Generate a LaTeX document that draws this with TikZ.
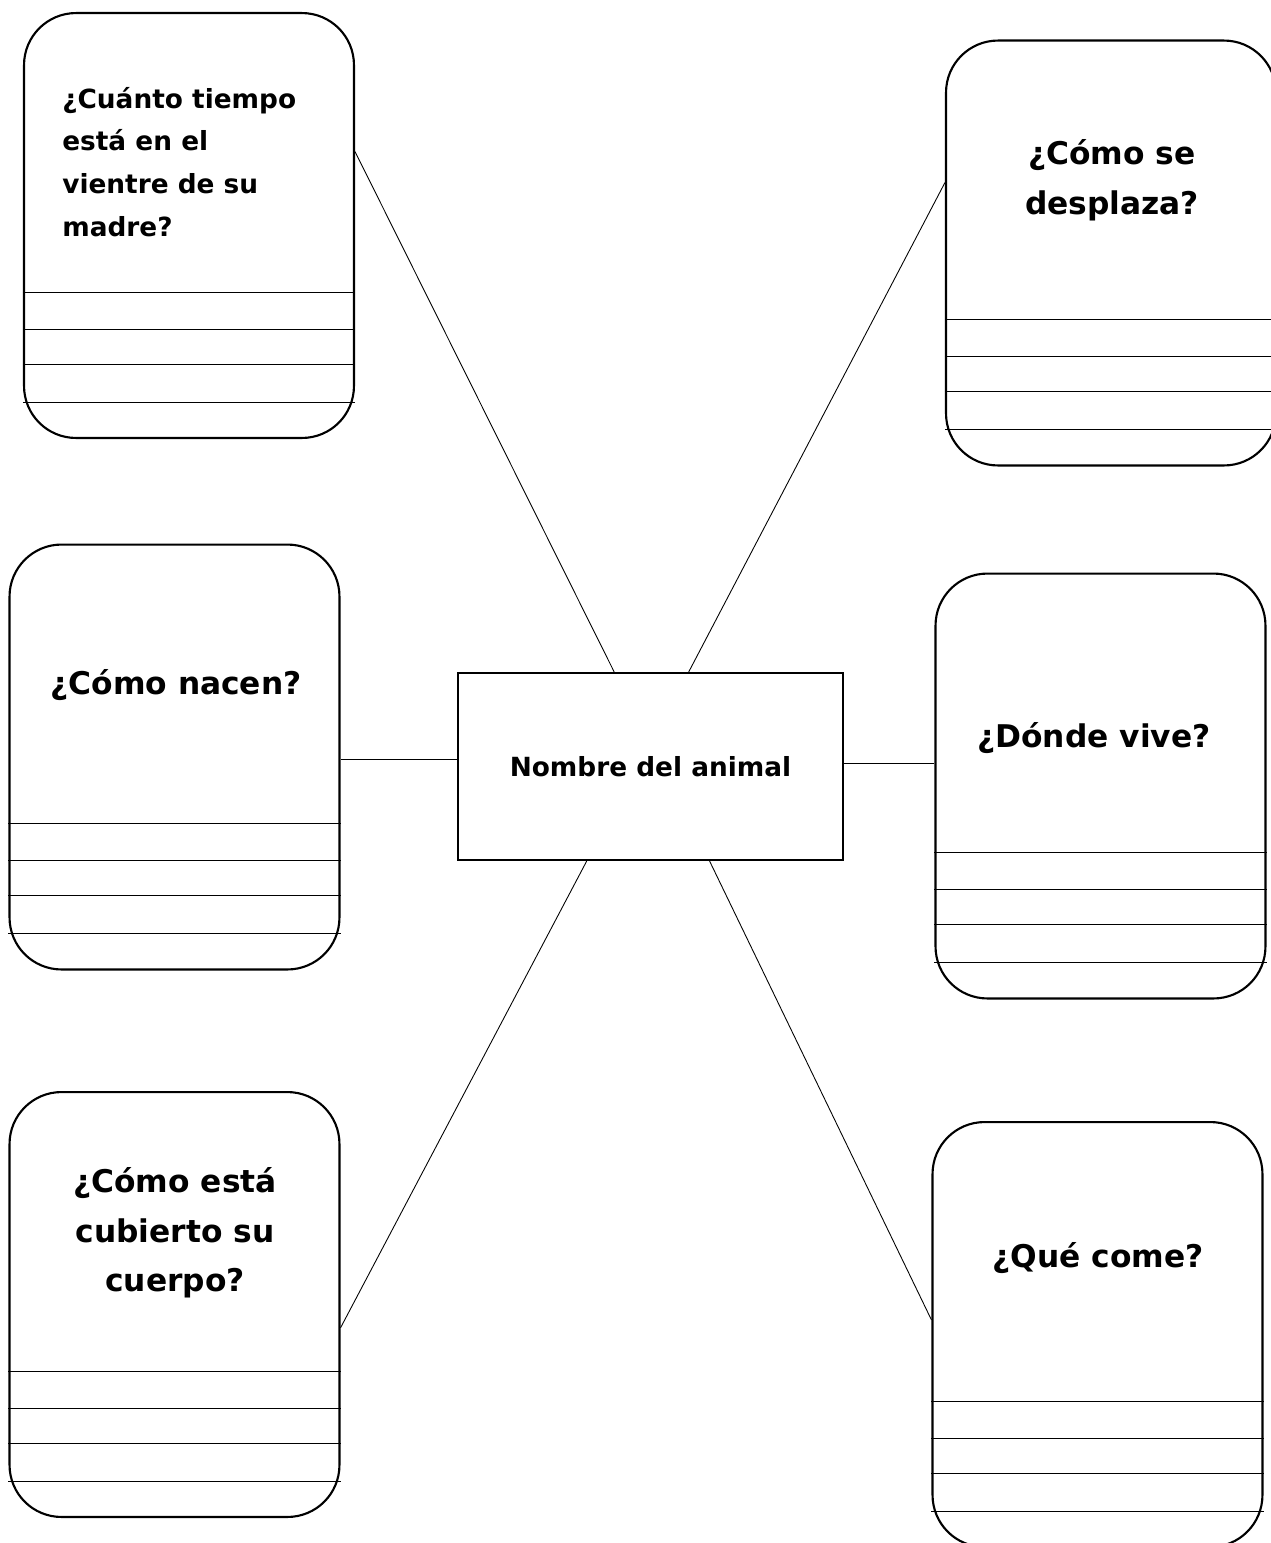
\documentclass[tikz,border=0pt]{standalone}
\usepackage{fontspec}
\setmainfont{DejaVu Sans}
\usetikzlibrary{positioning}
\begin{document}
\begin{tikzpicture}[x=0.02cm,y=-0.02cm,
    caja/.style={draw,line width=1.2pt,rounded corners=1.04cm,minimum width=6.6cm,minimum height=8.5cm,inner sep=0pt},
    pregunta/.style={font=\bfseries\fontsize{17.8}{28.3}\selectfont,align=center,inner sep=0pt},
    pregchica/.style={font=\bfseries\fontsize{15}{24.4}\selectfont,align=left,inner sep=0pt,anchor=west},
    renglon/.style={line width=0.6pt},
    enlace/.style={line width=0.5pt}]
    \useasboundingbox (0,0) rectangle (1271,1543);

    % Cajas
    \node[caja] (q1) at (189,225.5) {};
    \node[caja] (q2) at (1111,253) {};
    \node[caja] (q3) at (174.5,757) {};
    \node[caja] (q4) at (1100.5,786) {};
    \node[caja] (q5) at (174.5,1304.5) {};
    \node[caja] (q6) at (1097.5,1334.5) {};

    % Centro
    \node[draw,line width=1.3pt,minimum width=7.7cm,minimum height=3.74cm,
          font=\bfseries\fontsize{15}{18}\selectfont] (c) at (650.5,766.5) {Nombre del animal};

    % Preguntas
    \node[pregchica] (t1) at (62,162) {¿Cuánto tiempo\\está en el\\vientre de su\\madre?};
    \node[pregunta] (t2) at (1112,180) {¿Cómo se\\desplaza?};
    \node[pregunta] (t3) at (176,685) {¿Cómo nacen?};
    \node[pregunta] (t4) at (1094,738) {¿Dónde vive?};
    \node[pregunta] (t5) at (175,1233) {¿Cómo está\\cubierto su\\cuerpo?};
    \node[pregunta] (t6) at (1098,1258) {¿Qué come?};

    % Renglones
    \foreach \q in {q1,q2,q3,q4,q5,q6}
        \foreach \d in {2.94,2.2,1.5,0.74}
            \draw[renglon] ([yshift=\d cm]\q.south west) -- ([yshift=\d cm]\q.south east);

    % Enlaces
    \draw[enlace] (q1.24) -- (c.111.85);
    \draw[enlace] (q2.157.6) -- (c.68.15);
    \draw[enlace] (c.178.4) -- (c.178.4 -| q3.east);
    \draw[enlace] (c.1.9) -- (c.1.9 -| q4.west);
    \draw[enlace] (q5.-8.1) -- (c.-124.2);
    \draw[enlace] (q6.175) -- (c.-58.9);
\end{tikzpicture}
\end{document}
